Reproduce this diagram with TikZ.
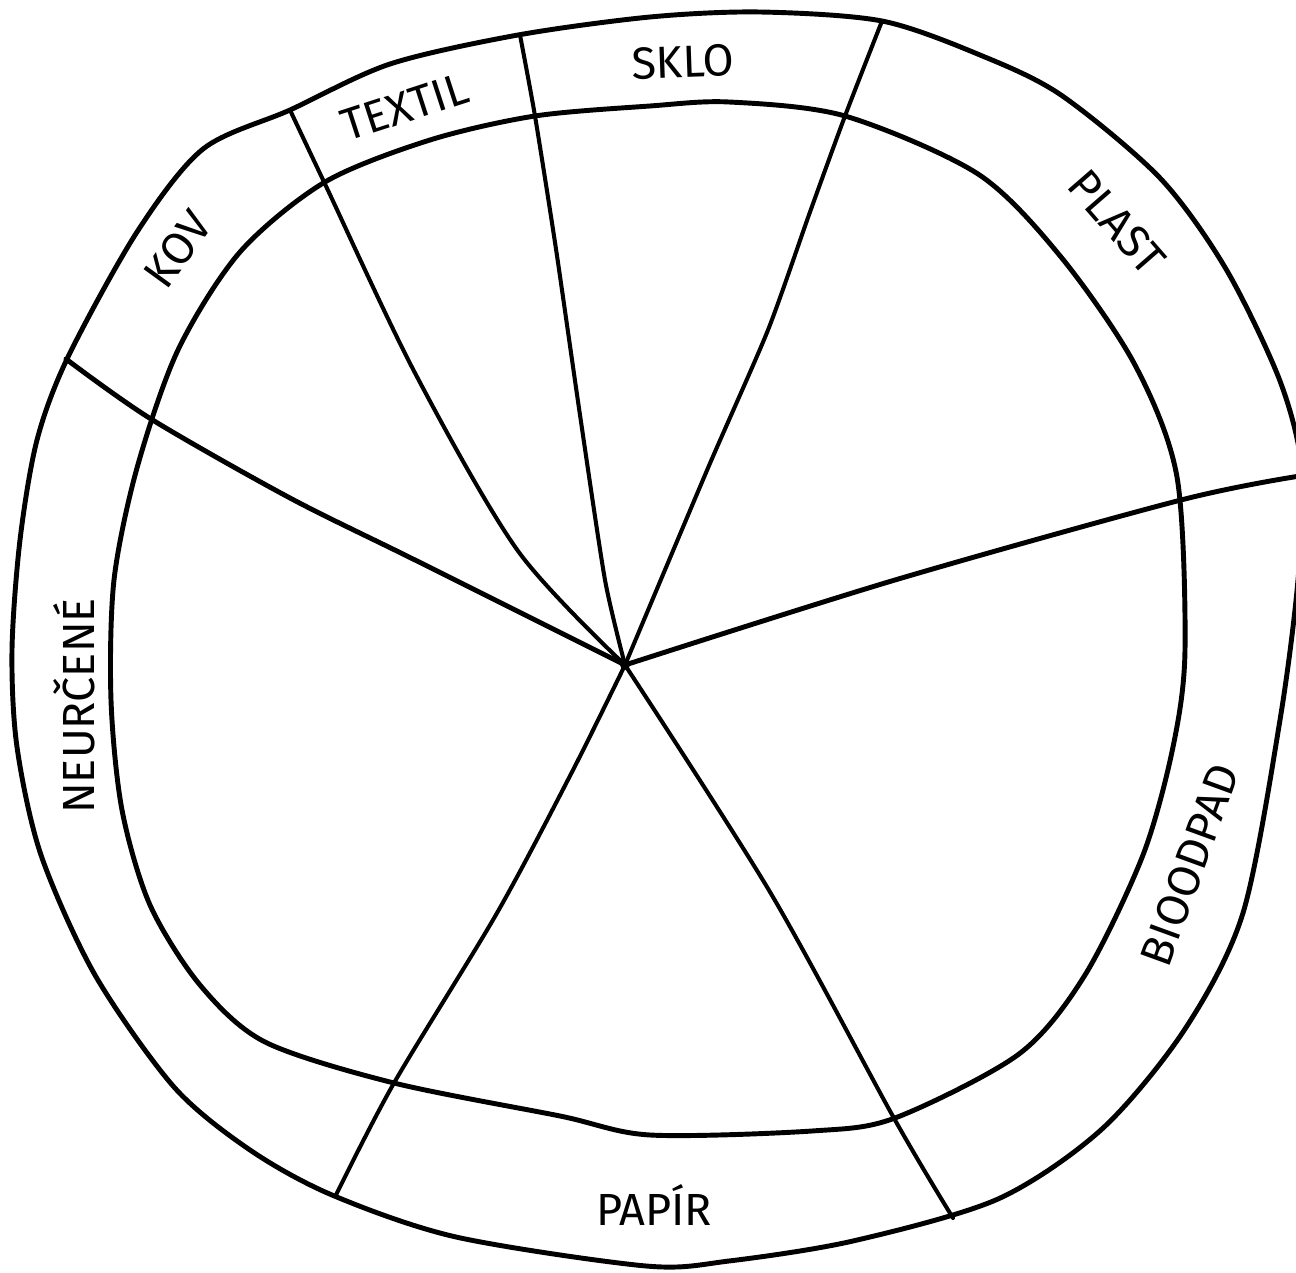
\documentclass[tikz,border=0pt]{standalone}
\usepackage{fontspec}
\setmainfont{Fira Sans}
\usepackage{tikz}

\begin{document}
\begin{tikzpicture}[x=0.01cm, y=-0.01cm, line cap=round, line join=round,
        rim/.style={line width=1.4pt},
        spoke/.style={line width=1.15pt},
        lbl/.style={font=\fontsize{12.8}{14}\selectfont, inner sep=0pt}]
        \useasboundingbox (0,0) rectangle (1296,1273);
        \clip (0,0) rectangle (1296,1273);
        \draw[rim] plot[smooth cycle, tension=0.5] coordinates {(518,35) (650,17) (760,12) (882,21) (980,55) (1061,95) (1160,178) (1226,269) (1280,381) (1302,470) (1298,580) (1280,720) (1243,913) (1185,1029) (1102,1129) (998,1199) (853,1241) (729,1261) (646,1266) (456,1237) (332,1195) (250,1150) (174,1087) (95,975) (41,855) (17,747) (12,650) (20,540) (37,440) (68,357) (137,232) (203,149) (290,110) (390,64)};
        \draw[rim] plot[smooth cycle, tension=0.5] coordinates {(535,116) (650,106) (729,102) (845,116) (978,174) (1061,257) (1135,365) (1177,477) (1185,650) (1173,747) (1143,855) (1085,975) (1019,1054) (895,1118) (812,1131) (650,1135) (560,1116) (394,1083) (265,1042) (200,985) (150,905) (122,810) (111,700) (114,580) (137,468) (178,350) (240,252) (325,182) (430,140)};
        \draw[spoke, line width=1.4pt] plot[smooth, tension=0.5] coordinates {(66,359) (151,419) (290,498) (415,560) (625,665)};
        \draw[spoke] plot[smooth, tension=0.5] coordinates {(290,110) (325,184) (415,373) (518,551) (625,665)};
        \draw[spoke] plot[smooth, tension=0.4] coordinates {(520,35) (535,116) (556,249) (580,415) (605,580) (625,665)};
        \draw[spoke] plot[smooth, tension=0.4] coordinates {(882,21) (845,116) (810,212) (768,330) (708,468) (625,665)};
        \draw[spoke, line width=1.4pt] plot[smooth, tension=0.5] coordinates {(1300,476) (1181,500) (895,580) (625,665)};
        \draw[spoke] plot[smooth, tension=0.5] coordinates {(625,665) (770,892) (895,1120) (953,1218)};
        \draw[spoke] plot[smooth, tension=0.5] coordinates {(625,665) (572,772) (497,913) (394,1083) (336,1195)};
        \fill (625,665) circle (5);
        \foreach \x/\y/\ang/\txt/\name in {683/62/2/SKLO/sklo, 1117/222/-49/PLAST/plast, 1190/865/70/BIOODPAD/bio, 654/1205/0/PAPÍR/papir, 74/706/90/NEURČENÉ/neur, 178/249/54/KOV/kov, 405/107/18/TEXTIL/textil} {
            \node[lbl, rotate=\ang] (\name) at (\x,\y) {\txt};
        }
    \end{tikzpicture}
\end{document}
